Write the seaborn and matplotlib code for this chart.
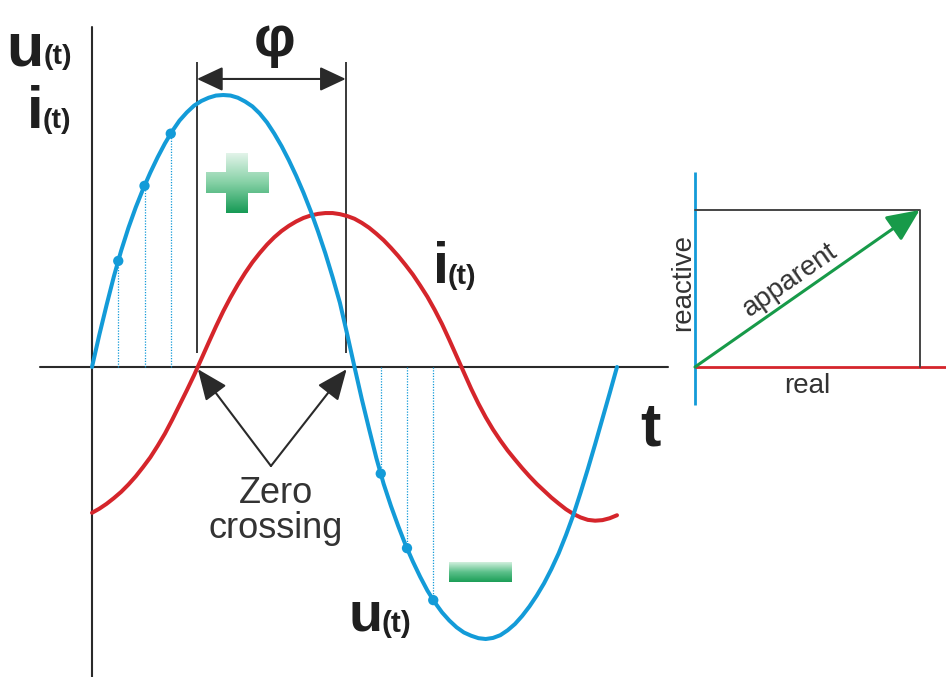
import matplotlib
matplotlib.use("Agg")
import matplotlib.pyplot as plt
import numpy as np
import pandas as pd
import seaborn as sns
from matplotlib.patches import FancyArrowPatch, Polygon, ArrowStyle
from matplotlib.colors import LinearSegmentedColormap

# one period of the waveforms, phase angle in degrees
angle_deg = list(range(0, 361, 5))
voltage = [0.0, 0.118, 0.228, 0.333, 0.428, 0.512, 0.587, 0.654, 0.715, 0.771,
           0.822, 0.867, 0.906, 0.936, 0.961, 0.978, 0.990, 0.998, 1.000,
           0.998, 0.990, 0.976, 0.958, 0.932, 0.899, 0.858, 0.812, 0.760,
           0.703, 0.641, 0.573, 0.498, 0.418, 0.330, 0.236, 0.120, 0.0,
           -0.118, -0.228, -0.335, -0.430, -0.511, -0.585, -0.654, -0.715, -0.771,
           -0.822, -0.865, -0.902, -0.932, -0.957, -0.976, -0.988, -0.997, -1.000,
           -0.996, -0.986, -0.968, -0.945, -0.915, -0.880, -0.840, -0.795, -0.743,
           -0.685, -0.618, -0.545, -0.462, -0.375, -0.284, -0.190, -0.096, 0.0]
current = [-0.536, -0.521, -0.503, -0.482, -0.459, -0.432, -0.402, -0.368, -0.332, -0.290,
           -0.245, -0.194, -0.140, -0.086, -0.030, 0.030, 0.090, 0.149, 0.205,
           0.256, 0.303, 0.346, 0.385, 0.419, 0.450, 0.477, 0.500, 0.519,
           0.535, 0.548, 0.557, 0.563, 0.566, 0.566, 0.562, 0.555, 0.545,
           0.530, 0.512, 0.490, 0.466, 0.438, 0.408, 0.375, 0.340, 0.300,
           0.258, 0.210, 0.158, 0.100, 0.040, -0.020, -0.080, -0.135, -0.185,
           -0.230, -0.270, -0.307, -0.340, -0.372, -0.402, -0.430, -0.455, -0.480,
           -0.502, -0.523, -0.540, -0.553, -0.562, -0.565, -0.563, -0.556, -0.545]

# sampled instants of the voltage
sample_deg = [18, 36, 54, 198, 216, 234]
sample_u = [0.39, 0.666, 0.858, -0.392, -0.666, -0.857]

# zero crossings bounding the phase shift
phi_deg = [72, 174]

# power triangle
phasor_real = 0.82
phasor_reactive = 0.573

BLUE = "#139bd8"
RED = "#d5252b"
GREEN = "#179a49"
INK = "#2a2a2a"
TEXT = "#333333"

sns.set_theme(style="white")
plt.rcParams["font.family"] = ["Liberation Sans", "DejaVu Sans"]

fig = plt.figure(figsize=(9.46, 6.77), dpi=100)
ax = fig.add_axes([0, 0, 1, 1])
ax.set_axis_off()

wave = pd.DataFrame({"angle": angle_deg, "u": voltage, "i": current})

# time axis and value axis
ax.plot([0, 0], [-1.15, 1.25], color=INK, lw=1.5, zorder=1)
ax.plot([-35.7, 395], [0, 0], color=INK, lw=1.5, zorder=1)

# dotted drop lines of the samples
ax.vlines(sample_deg, 0, sample_u, colors=BLUE, linestyles=(0, (1, 1.2)), lw=0.9, zorder=2)

sns.lineplot(data=wave, x="angle", y="i", color=RED, lw=2.9, ax=ax,
             estimator=None, sort=False, zorder=3)
sns.lineplot(data=wave, x="angle", y="u", color=BLUE, lw=2.9, ax=ax,
             estimator=None, sort=False, zorder=4)
sns.scatterplot(x=sample_deg, y=sample_u, color=BLUE, s=55, edgecolor="none",
                ax=ax, zorder=5, legend=False)

# phase shift marker
ax.vlines(phi_deg, 0.051, 1.121, colors=INK, lw=1.3, zorder=2)
ax.add_patch(FancyArrowPatch((phi_deg[0], 1.059), (phi_deg[1], 1.059),
                             arrowstyle=ArrowStyle("<|-|>", head_length=16, head_width=7.5),
                             mutation_scale=1, color=INK, lw=1.5,
                             shrinkA=0, shrinkB=0, zorder=6))

# zero crossing pointers
apex = (122.7, -0.364)
for x0 in phi_deg:
    ax.add_patch(FancyArrowPatch(apex, (x0 + 0.6, -0.008),
                                 arrowstyle=ArrowStyle("-|>", head_length=19, head_width=8),
                                 mutation_scale=1, color=INK, lw=1.5,
                                 shrinkA=0, shrinkB=0, zorder=6))

ax.text(126.2, -0.500, "Zero", fontsize=26, ha="center", va="baseline", color=TEXT)
ax.text(126.2, -0.629, "crossing", fontsize=26, ha="center", va="baseline", color=TEXT)

# plus and minus signs with a vertical fade
grad = np.linspace(0, 1, 256).reshape(-1, 1)
plus_cmap = LinearSegmentedColormap.from_list("plus", ["#e6f5ec", "#86d1a6", "#169a55"])
im = ax.imshow(grad, extent=[78.2, 121.4, 0.566, 0.787], origin="upper",
               cmap=plus_cmap, aspect="auto", interpolation="bilinear", zorder=3)
plus = Polygon([(91.9, 0.787), (107.0, 0.787), (107.0, 0.717), (121.4, 0.717),
                (121.4, 0.640), (107.0, 0.640), (107.0, 0.566), (91.9, 0.566),
                (91.9, 0.640), (78.2, 0.640), (78.2, 0.717), (91.9, 0.717)],
               closed=True, transform=ax.transData, facecolor="none", edgecolor="none")
ax.add_patch(plus)
im.set_clip_path(plus)

minus_cmap = LinearSegmentedColormap.from_list("minus", ["#d2f0de", "#5cc08a", "#1b9e57"])
ax.imshow(grad, extent=[244.8, 288.0, -0.790, -0.717], origin="upper",
          cmap=minus_cmap, aspect="auto", interpolation="bilinear", zorder=3)

ax.set_xlim(-63.09, 585.6)
ax.set_ylim(-1.1397, 1.3493)

# symbols
big = dict(family=["Liberation Sans", "DejaVu Sans"], weight="bold",
           color="#1f1f1f", va="baseline", ha="left")
ax.text(-59.0, 1.110, "u", fontsize=44, **big)
ax.text(-33.3, 1.114, "(t)", fontsize=20.5, **big)
ax.text(-44.6, 0.879, "i", fontsize=43, **big)
ax.text(-34.0, 0.879, "(t)", fontsize=20.5, **big)
ax.text(233.6, 0.309, "i", fontsize=41, **big)
ax.text(243.6, 0.305, "(t)", fontsize=20.5, **big)
ax.text(176.2, -0.967, "u", fontsize=40, **big)
ax.text(198.6, -0.974, "(t)", fontsize=21.5, **big)
big.pop("ha")
ax.text(125.5, 1.144, "φ", fontsize=42, ha="center", **big)
ax.text(382.6, -0.290, "t", fontsize=44, ha="center", **big)

# power triangle
ax2 = fig.add_axes([680 / 946, (677 - 420) / 677, 266 / 946, 260 / 677])
ax2.set_axis_off()
ax2.set_xlim(-0.0547, 0.916)
ax2.set_ylim(-0.1934, 0.7555)
ax2.plot([0, 0], [-0.139, 0.712], color=BLUE, lw=2, solid_capstyle="butt")
ax2.plot([0, 0.916], [0, 0], color=RED, lw=2, solid_capstyle="butt")
ax2.plot([0, phasor_real, phasor_real], [phasor_reactive, phasor_reactive, 0],
         color="#454545", lw=1.4)
ax2.add_patch(FancyArrowPatch((0, 0), (phasor_real, phasor_reactive),
                              arrowstyle=ArrowStyle("-|>", head_length=20, head_width=9),
                              mutation_scale=1, color=GREEN, lw=2.2,
                              shrinkA=0, shrinkB=0, zorder=5))
ax2.text(-0.0438, 0.310, "reactive", fontsize=20, rotation=90, ha="center", va="center", color=TEXT)
ax2.text(0.409, -0.0949, "real", fontsize=20, ha="center", va="baseline", color=TEXT)
ax2.text(0.347, 0.318, "apparent", fontsize=20, rotation=34.9, ha="center", va="center",
         rotation_mode="anchor", color=TEXT)

fig.savefig("out.png", dpi=100)
